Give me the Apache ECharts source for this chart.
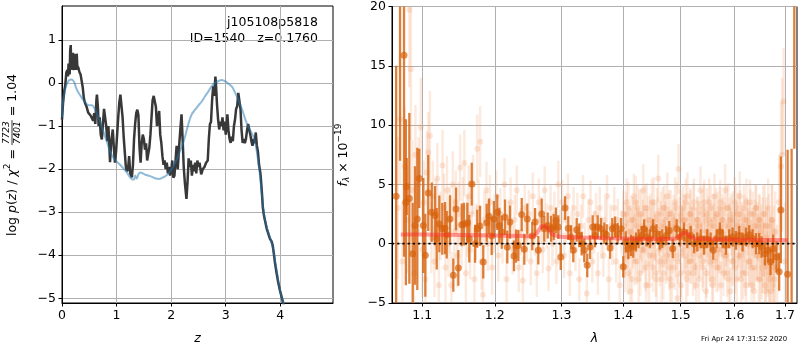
<!DOCTYPE html>
<html>
<head>
<meta charset="utf-8">
<script src="https://cdn.jsdelivr.net/npm/echarts@6/dist/echarts.min.js"></script>
<style>
  html, body { margin: 0; padding: 0; background: #fff; }
  #chart { width: 800px; height: 350px; }
</style>
</head>
<body>
<div id="chart"></div>
<script>
// ---------- redshift probability panel ----------
const zTicks = [0, 1, 2, 3, 4];
const logpTicks = [-5, -4, -3, -2, -1, 0, 1];
const zRange = [0, 4.965];
const logpRange = [-5.109, 1.787];

// log p(z) on the fine redshift grid: [z, log p]
const pzCurve = [
  [0.00,-0.85],[0.02,-0.45],[0.04,-0.20],[0.06,-0.05],[0.08,0.25],[0.10,0.30],[0.11,0.15],[0.12,0.45],
  [0.13,0.35],[0.14,0.20],[0.15,0.75],[0.16,0.88],[0.17,0.35],[0.18,0.55],[0.19,0.30],[0.20,0.70],
  [0.21,0.40],[0.22,0.30],[0.23,0.68],[0.24,0.35],[0.25,0.60],[0.26,0.30],[0.27,0.68],[0.28,0.40],
  [0.30,0.35],[0.32,0.25],[0.34,0.20],[0.36,0.24],[0.38,-0.10],[0.40,-0.35],[0.42,-0.46],[0.45,-0.55],
  [0.48,-0.69],[0.52,-0.75],[0.55,-0.82],[0.57,-0.88],[0.59,-0.70],[0.61,-0.95],[0.63,-0.40],[0.64,-0.27],
  [0.66,-0.60],[0.67,-1.00],[0.69,-0.80],[0.71,-1.20],[0.73,-1.31],[0.75,-0.95],[0.77,-0.60],[0.79,-0.57],
  [0.81,-1.00],[0.83,-1.35],[0.85,-1.00],[0.87,-1.55],[0.88,-1.84],[0.90,-1.40],[0.93,-1.08],[0.95,-1.50],
  [0.97,-1.85],[0.99,-1.60],[1.01,-1.20],[1.03,-0.80],[1.05,-0.45],[1.07,-0.27],[1.09,-0.30],[1.11,-0.80],
  [1.13,-1.25],[1.15,-1.60],[1.17,-1.95],[1.19,-2.05],[1.21,-2.00],[1.23,-1.70],[1.25,-2.10],[1.28,-2.19],
  [1.30,-1.90],[1.32,-1.30],[1.34,-0.95],[1.36,-0.70],[1.38,-0.62],[1.40,-0.75],[1.42,-1.50],[1.44,-1.85],
  [1.46,-1.40],[1.48,-1.20],[1.50,-1.30],[1.52,-1.55],[1.54,-1.40],[1.56,-1.80],[1.58,-1.65],[1.60,-1.50],
  [1.62,-1.20],[1.64,-0.80],[1.66,-0.40],[1.68,-0.30],[1.70,-0.27],[1.72,-0.55],[1.74,-1.00],[1.76,-0.85],
  [1.78,-0.65],[1.80,-1.20],[1.82,-1.40],[1.84,-1.70],[1.86,-1.90],[1.88,-1.80],[1.90,-2.00],[1.92,-1.85],
  [1.94,-2.10],[1.96,-1.95],[1.98,-2.15],[2.00,-2.05],[2.02,-1.80],[2.04,-2.20],[2.06,-2.15],[2.08,-1.80],
  [2.10,-1.46],[2.12,-2.00],[2.14,-1.60],[2.15,-1.39],[2.17,-1.05],[2.19,-0.73],[2.21,-1.30],[2.23,-1.95],
  [2.25,-2.30],[2.28,-2.69],[2.30,-2.30],[2.32,-1.75],[2.34,-1.95],[2.36,-1.80],[2.38,-2.15],[2.40,-1.90],
  [2.42,-2.05],[2.44,-1.85],[2.46,-2.10],[2.48,-1.80],[2.50,-1.95],[2.52,-1.85],[2.55,-2.12],[2.58,-2.00],
  [2.61,-1.95],[2.64,-1.85],[2.67,-1.80],[2.69,-1.30],[2.71,-0.96],[2.73,-0.90],[2.75,-0.40],[2.77,-0.08],
  [2.79,-0.30],[2.81,0.15],[2.82,0.00],[2.84,-0.50],[2.86,-0.85],[2.88,-1.08],[2.90,-0.90],[2.92,-1.00],
  [2.94,-0.80],[2.96,-1.10],[2.98,-0.90],[3.00,-1.20],[3.02,-0.90],[3.03,-0.73],[3.05,-1.10],[3.07,-1.30],
  [3.09,-1.39],[3.11,-1.25],[3.13,-1.35],[3.15,-1.00],[3.17,-0.85],[3.19,-0.60],[3.21,-0.54],[3.23,-0.23],
  [3.25,-0.25],[3.27,-0.60],[3.29,-1.10],[3.31,-1.39],[3.33,-1.30],[3.35,-1.40],[3.37,-1.30],[3.39,-1.10],
  [3.41,-0.95],[3.43,-0.92],[3.45,-1.20],[3.47,-1.35],[3.49,-1.46],[3.51,-1.30],[3.53,-1.40],[3.55,-1.15],
  [3.57,-1.45],[3.59,-1.60],[3.61,-1.90],[3.63,-2.05],[3.64,-2.16],[3.66,-2.50],[3.68,-2.90],[3.70,-3.08],
  [3.72,-3.20],[3.75,-3.38],[3.78,-3.50],[3.81,-3.62],[3.84,-3.68],[3.86,-3.77],[3.88,-3.95],[3.90,-4.16],
  [3.93,-4.40],[3.96,-4.62],[3.99,-4.80],[4.02,-4.95],[4.05,-5.10],[4.07,-5.20]
];

// template-fit log p(z): [z, log p]
const pzTemplate = [
  [0.00,-0.80],[0.02,-0.45],[0.05,-0.20],[0.08,-0.05],[0.11,0.03],[0.14,0.07],[0.17,0.08],[0.20,0.06],
  [0.23,0.00],[0.26,-0.12],[0.30,-0.22],[0.34,-0.30],[0.38,-0.38],[0.42,-0.44],[0.46,-0.50],[0.50,-0.52],
  [0.55,-0.52],[0.60,-0.60],[0.65,-0.74],[0.70,-0.90],[0.75,-1.10],[0.80,-1.28],[0.85,-1.48],[0.90,-1.65],
  [0.95,-1.75],[1.00,-1.82],[1.05,-1.88],[1.10,-1.95],[1.15,-2.02],[1.20,-2.10],[1.25,-2.20],[1.29,-2.24],
  [1.32,-2.24],[1.34,-2.15],[1.37,-2.22],[1.40,-2.12],[1.43,-2.08],[1.48,-2.10],[1.53,-2.13],[1.58,-2.15],
  [1.65,-2.18],[1.72,-2.22],[1.78,-2.23],[1.84,-2.20],[1.90,-2.16],[1.96,-2.08],[2.01,-2.00],[2.06,-1.88],
  [2.10,-1.78],[2.14,-1.65],[2.18,-1.52],[2.22,-1.40],[2.26,-1.22],[2.30,-1.02],[2.34,-0.85],[2.38,-0.72],
  [2.44,-0.62],[2.50,-0.52],[2.56,-0.43],[2.62,-0.31],[2.68,-0.20],[2.74,-0.08],[2.80,0.00],[2.86,0.04],
  [2.92,0.07],[2.96,0.06],[3.00,0.03],[3.05,-0.02],[3.11,-0.08],[3.17,-0.22],[3.23,-0.39],[3.30,-0.62],
  [3.38,-0.92],[3.44,-1.08],[3.50,-1.23],[3.55,-1.45],[3.58,-1.69],[3.61,-1.95],[3.64,-2.30],[3.67,-2.70],
  [3.70,-3.05],[3.74,-3.30],[3.78,-3.48],[3.82,-3.62],[3.86,-3.80],[3.90,-4.10],[3.95,-4.50],[4.00,-4.85],
  [4.05,-5.10],[4.07,-5.20]
];

// ---------- 1D spectrum panel ----------
const lamTicks = [1.1, 1.2, 1.3, 1.4, 1.5, 1.6, 1.7];
const lamRange = [1.0607, 1.7246];
const fluxRange = [-5, 20];
const fluxInterval = 5;

// individual spectra, first exposure: [lambda, flux, error]
const rawPoints = [
  [1.068,3.0,6.0],[1.071,10.5,5.5],[1.074,-1.5,5.0],[1.077,6.5,5.0],[1.080,2.0,4.5],[1.083,19.7,6.5],
  [1.085,14.7,6.0],[1.087,4.5,4.2],[1.089,-2.5,4.0],[1.091,7.5,4.2],[1.093,1.0,4.0],[1.095,5.0,4.0],
  [1.098,9.8,4.2],[1.100,-0.5,4.0],
  [1.102,3.5,3.5],[1.104,-3.0,3.4],[1.106,6.0,3.5],[1.108,7.7,3.4],[1.110,9.1,3.8],[1.112,0.5,3.0],
  [1.114,4.0,3.0],[1.116,-1.5,3.0],[1.118,2.5,3.0],[1.120,5.5,3.0],[1.122,-3.5,3.0],[1.124,1.5,2.9],
  [1.127,6.6,3.0],[1.129,3.0,2.9],[1.131,-2.0,2.9],[1.133,4.5,2.9],[1.135,0.0,2.8],[1.137,2.0,2.8],
  [1.139,-3.5,2.8],[1.141,5.0,2.8],[1.143,1.0,2.8],[1.145,3.5,2.7],[1.147,-1.0,2.7],[1.149,2.5,2.7],
  [1.151,6.4,2.8],[1.153,0.5,2.6],[1.155,3.0,2.6],[1.157,6.8,2.8],[1.159,-2.5,2.6],[1.161,1.5,2.6],
  [1.163,4.0,2.6],[1.165,-0.5,2.5],[1.167,2.5,2.5],[1.169,5.0,2.5],[1.171,-3.0,2.5],[1.173,1.0,2.4],
  [1.175,8.0,2.9],[1.177,3.0,2.4],[1.179,8.6,3.0],[1.181,-1.5,2.4],[1.183,-4.3,2.4],[1.185,2.0,2.4],
  [1.188,4.5,2.4],[1.190,0.0,2.3],[1.193,3.5,2.3],[1.196,-2.0,2.3],[1.199,1.5,2.3],
  [1.202,4.0,2.2],[1.205,-1.0,2.2],[1.208,2.5,2.2],[1.211,0.5,2.2],[1.214,5.0,2.2],[1.217,-3.0,2.2],
  [1.220,1.5,2.1],[1.223,3.5,2.1],[1.226,-0.5,2.1],[1.229,2.0,2.1],[1.232,4.5,2.1],[1.235,-2.0,2.1],
  [1.238,1.0,2.0],[1.241,-3.1,2.0],[1.244,3.0,2.0],[1.247,0.5,2.0],[1.250,2.5,2.0],[1.253,-1.5,2.0],
  [1.256,4.0,2.0],[1.259,1.0,2.0],[1.262,-2.5,2.0],[1.265,3.5,2.0],[1.268,2.0,2.0],[1.271,-0.5,2.0],
  [1.274,4.5,2.0],[1.277,1.5,1.9],[1.280,-2.1,1.9],[1.283,3.0,1.9],[1.286,0.0,1.9],[1.289,2.5,1.9],
  [1.292,-1.5,1.9],[1.295,5.0,2.0],[1.298,1.0,1.9],
  [1.301,3.5,1.9],[1.304,-1.0,1.9],[1.307,2.0,1.9],[1.310,4.0,1.9],[1.313,-2.5,1.9],[1.316,1.0,1.8],
  [1.319,3.0,1.8],[1.322,-0.5,1.8],[1.325,2.5,1.8],[1.328,-3.0,1.8],[1.331,1.5,1.8],[1.334,4.0,1.8],
  [1.337,0.0,1.8],[1.340,-4.2,1.8],[1.343,2.0,1.8],[1.346,3.5,1.8],[1.349,-1.5,1.8],[1.352,1.0,1.8],
  [1.355,2.5,1.8],[1.358,-2.5,1.8],[1.361,3.0,1.8],[1.364,0.5,1.8],[1.367,-1.0,1.8],[1.370,2.0,1.8],
  [1.373,4.0,1.8],[1.376,-3.0,1.8],[1.379,1.5,1.8],[1.382,0.0,1.8],[1.385,3.0,1.8],[1.388,-1.5,1.8],
  [1.391,2.0,1.8],[1.394,-3.5,1.8],[1.397,1.0,1.8],
  [1.400,2.5,2.0],[1.402,-1.0,1.9],[1.404,0.5,2.1],[1.406,3.5,2.0],[1.408,-2.5,1.8],[1.410,1.0,2.2],
  [1.412,-4.0,1.9],[1.414,2.0,2.0],[1.416,0.0,2.1],[1.418,4.0,1.9],[1.420,-1.5,2.0],[1.422,1.5,2.2],
  [1.424,3.0,1.9],[1.426,-3.0,2.0],[1.428,0.5,1.8],[1.430,2.5,2.1],[1.432,-0.5,2.0],[1.434,4.5,2.2],
  [1.436,1.0,1.9],[1.438,-2.0,2.0],[1.440,3.0,2.1],[1.442,0.0,1.9],[1.444,-3.5,2.0],[1.446,2.0,2.2],
  [1.448,1.5,1.8],[1.450,-1.0,2.0],[1.452,3.5,2.1],[1.454,0.5,1.9],[1.456,-2.5,2.0],[1.458,2.5,2.2],
  [1.460,5.5,2.0],[1.462,-0.5,1.9],[1.464,1.5,2.1],[1.466,-3.0,2.0],[1.468,3.0,1.8],[1.470,0.0,2.0],
  [1.472,2.0,2.2],[1.474,-1.5,1.9],[1.476,4.0,2.0],[1.478,1.0,2.1],[1.480,-2.0,1.9],[1.482,2.5,2.0],
  [1.484,-3.5,2.2],[1.486,1.5,1.9],[1.488,0.5,2.0],[1.490,3.5,2.1],[1.492,-1.0,1.8],[1.494,-4.6,2.0],
  [1.496,6.3,2.1],[1.498,2.0,1.9],[1.500,-2.5,2.0],[1.502,1.0,2.2],[1.504,3.0,1.9],[1.506,-0.5,2.0],
  [1.508,2.0,2.1],[1.510,-3.0,1.9],[1.512,4.0,2.0],[1.514,0.5,2.2],[1.516,-1.5,1.8],[1.518,2.5,2.0],
  [1.520,1.0,2.1],[1.522,-2.5,1.9],[1.524,3.5,2.0],[1.526,0.0,2.2],[1.528,-3.5,1.9],[1.530,2.0,2.0],
  [1.532,1.5,2.1],[1.534,-1.0,1.9],[1.536,4.5,2.0],[1.538,0.5,1.8],[1.540,-2.0,2.0],[1.542,3.0,2.1],
  [1.544,1.0,1.9],[1.546,-4.0,2.0],[1.548,2.5,2.2],[1.550,0.0,1.9],[1.552,3.5,2.0],[1.554,-1.5,2.1],
  [1.556,1.5,1.9],[1.558,-3.0,2.0],[1.560,2.0,2.2],[1.562,4.0,1.9],[1.564,0.5,2.0],[1.566,-2.0,2.1],
  [1.568,2.5,1.9],[1.570,-0.5,2.0],[1.572,3.0,1.8],[1.574,-3.5,2.0],[1.576,1.0,2.1],[1.578,2.0,1.9],
  [1.580,-1.0,2.0],[1.582,4.5,2.2],[1.584,0.0,1.9],[1.586,-2.5,2.0],[1.588,3.0,2.1],[1.590,1.5,1.9],
  [1.592,-4.0,2.0],[1.594,2.0,2.2],[1.596,0.5,1.9],[1.598,-1.5,2.0],[1.600,3.5,2.1],[1.602,1.0,1.9],
  [1.604,-3.0,2.0],[1.606,2.5,1.8],[1.608,0.0,2.0],[1.610,4.0,2.1],[1.612,-1.0,1.9],[1.614,1.5,2.0],
  [1.616,-2.5,2.2],[1.618,3.0,1.9],[1.620,0.5,2.0],[1.622,-3.5,2.1],[1.624,2.0,1.9],[1.626,1.0,2.0],
  [1.628,-1.5,2.2],[1.630,3.5,1.9],[1.632,0.0,2.0],[1.634,-2.0,2.1],[1.636,2.5,1.9],[1.638,-4.0,2.0],
  [1.640,1.5,2.2],[1.642,3.0,1.9],[1.644,-1.0,2.1],[1.646,0.5,2.0],[1.648,2.0,2.2],[1.650,-3.0,2.1],
  [1.652,1.0,2.3],[1.654,-2.0,2.2],[1.656,2.5,2.4],[1.658,-0.5,2.3],[1.660,-3.5,2.5],[1.662,1.5,2.4],
  [1.664,-1.5,2.6],[1.666,3.0,2.5],[1.668,-2.5,2.7],[1.670,0.0,2.8],[1.672,-4.0,2.8],[1.674,2.0,3.0],
  [1.676,-1.0,3.0],[1.678,-3.0,3.2],[1.680,1.0,3.4],[1.684,-2.0,3.6],[1.688,3.5,4.0],[1.692,6.5,5.5],
  [1.694,7.5,6.5],[1.697,12.0,4.5],[1.700,-1.5,5.0]
];

// individual spectra, second exposure (red half of the band): [lambda, flux, error]
const rawPoints2 = [
  [1.401,1.5,2.0],[1.403,-2.0,2.1],[1.405,2.5,1.9],[1.407,0.0,2.0],[1.409,3.0,2.2],[1.411,-1.0,1.9],
  [1.413,1.0,2.0],[1.415,-3.0,2.1],[1.417,2.0,1.9],[1.419,0.5,2.0],[1.421,3.5,2.2],[1.423,-1.5,1.9],
  [1.425,1.0,2.0],[1.427,2.5,2.1],[1.429,-2.5,1.9],[1.431,0.5,2.0],[1.433,1.5,2.2],[1.435,-0.5,1.9],
  [1.437,3.0,2.0],[1.439,-3.5,2.1],[1.441,1.0,1.9],[1.443,2.0,2.0],[1.445,-1.0,2.2],[1.447,0.0,1.9],
  [1.449,3.5,2.0],[1.451,-2.0,2.1],[1.453,1.5,1.9],[1.455,0.5,2.0],[1.457,-3.0,2.2],[1.459,2.0,1.9],
  [1.461,1.0,2.0],[1.463,-1.5,2.1],[1.465,2.5,1.9],[1.467,0.0,2.0],[1.469,-2.5,2.2],[1.471,3.0,1.9],
  [1.473,1.5,2.0],[1.475,-1.0,2.1],[1.477,0.5,1.9],[1.479,2.5,2.0],[1.481,-3.0,2.2],[1.483,1.0,1.9],
  [1.485,-0.5,2.0],[1.487,2.0,2.1],[1.489,-2.0,1.9],[1.491,1.5,2.0],[1.493,3.0,2.2],[1.495,-1.5,1.9],
  [1.497,0.5,2.0],[1.499,2.5,2.1],[1.501,-3.5,1.9],[1.503,1.0,2.0],[1.505,2.0,2.2],[1.507,-1.0,1.9],
  [1.509,3.5,2.0],[1.511,0.0,2.1],[1.513,-2.5,1.9],[1.515,1.5,2.0],[1.517,2.5,2.2],[1.519,-1.5,1.9],
  [1.521,0.5,2.0],[1.523,3.0,2.1],[1.525,-2.0,1.9],[1.527,1.0,2.0],[1.529,-0.5,2.2],[1.531,2.0,1.9],
  [1.533,-3.0,2.0],[1.535,1.5,2.1],[1.537,0.0,1.9],[1.539,2.5,2.0],[1.541,-1.5,2.2],[1.543,3.5,1.9],
  [1.545,0.5,2.0],[1.547,-2.5,2.1],[1.549,1.0,1.9],[1.551,2.0,2.0],[1.553,-1.0,2.2],[1.555,3.0,1.9],
  [1.557,0.0,2.0],[1.559,-3.5,2.1],[1.561,1.5,1.9],[1.563,-1.5,2.0],[1.565,2.5,2.2],[1.567,0.5,1.9],
  [1.569,-2.0,2.0],[1.571,1.0,2.1],[1.573,3.5,1.9],[1.575,-0.5,2.0],[1.577,2.0,2.2],[1.579,-2.5,1.9],
  [1.581,1.5,2.0],[1.583,-1.0,2.1],[1.585,3.0,1.9],[1.587,0.5,2.0],[1.589,-3.0,2.2],[1.591,2.0,1.9],
  [1.593,1.0,2.0],[1.595,-1.5,2.1],[1.597,2.5,1.9],[1.599,0.0,2.0],[1.601,-2.0,2.2],[1.603,3.0,1.9],
  [1.605,1.5,2.0],[1.607,-1.0,2.1],[1.609,0.5,1.9],[1.611,2.5,2.0],[1.613,-3.0,2.2],[1.615,1.0,1.9],
  [1.617,-0.5,2.0],[1.619,2.0,2.1],[1.621,-2.5,1.9],[1.623,3.5,2.0],[1.625,0.0,2.2],[1.627,1.5,1.9],
  [1.629,-1.5,2.0],[1.631,2.5,2.1],[1.633,-3.5,1.9],[1.635,1.0,2.0],[1.637,0.5,2.2],[1.639,-2.0,1.9],
  [1.641,3.0,2.0],[1.643,-1.0,2.1],[1.645,1.5,2.0],[1.647,-3.0,2.2],[1.649,2.0,2.1],[1.651,0.0,2.3],
  [1.653,-2.5,2.2],[1.655,1.5,2.4],[1.657,-1.5,2.3],[1.659,2.5,2.5],[1.661,-4.0,2.4],[1.663,0.5,2.6],
  [1.665,-2.0,2.5],[1.667,1.5,2.7],[1.669,-3.0,2.8],[1.671,-0.5,2.8],[1.673,2.0,3.0],[1.675,-3.5,3.0],
  [1.677,0.0,3.2],[1.679,-2.0,3.3]
];

// binned spectrum: [lambda, flux, error]
const binnedPoints = [
  [1.0660,4.0,11.0],[1.0710,22.0,15.0],[1.0761,15.9,17.0],[1.0785,3.5,7.0],[1.0796,4.83,2.4],
  [1.0830,3.82,7.2],[1.0874,-0.84,4.3],[1.0904,1.53,5.0],[1.0934,2.09,6.0],[1.0960,5.5,2.5],
  [1.1013,1.53,4.0],[1.1040,-0.98,3.5],[1.1079,4.27,3.2],[1.1125,2.65,2.5],[1.1169,2.37,2.5],
  [1.1192,0.42,2.6],[1.1227,1.67,2.4],[1.1267,1.26,2.2],[1.1304,1.31,2.2],[1.1327,0.75,2.0],
  [1.1372,2.09,2.0],[1.1417,-2.65,1.4],[1.1454,2.93,1.8],[1.1486,-2.04,1.5],[1.1533,1.59,1.8],
  [1.1564,1.65,1.8],[1.1611,1.76,1.7],[1.1638,0.42,2.0],[1.1672,5.03,1.8],[1.1719,0.0,1.6],
  [1.1750,1.26,1.6],[1.1789,1.5,1.7],[1.1835,-1.54,1.4],[1.1884,1.76,1.6],[1.1917,2.32,1.5],
  [1.1955,0.64,1.6],[1.1987,2.09,1.5],[1.2036,2.65,1.5],[1.2065,1.54,1.5],[1.2100,0.98,1.4],
  [1.2148,2.23,1.5],[1.2181,-0.28,1.4],[1.2221,1.82,1.4],[1.2279,-1.03,1.3],[1.2310,-0.2,1.4],
  [1.2343,-0.15,1.3],[1.2394,2.46,1.4],[1.2432,-0.47,1.3],[1.2477,2.09,1.3],[1.2552,0.64,1.2],
  [1.2594,1.82,1.2],[1.2643,-0.56,1.2],[1.2695,2.51,1.3],[1.2734,1.26,1.1],[1.2787,1.54,1.1],
  [1.2838,1.26,1.1],[1.2879,1.40,1.1],[1.2915,1.95,1.1],[1.2950,1.40,1.0],[1.2988,-1.12,1.1],
  [1.3055,3.0,1.0],[1.3106,1.31,1.0],[1.3150,0.56,1.0],[1.3185,-0.56,1.0],[1.3239,1.17,1.0],
  [1.3280,0.70,1.0],[1.3319,0.0,1.0],[1.3360,-0.56,1.0],[1.3408,-1.82,1.0],[1.3453,-0.28,1.0],
  [1.3496,1.40,1.0],[1.3534,0.70,1.0],[1.3577,1.40,1.0],[1.3632,1.26,0.9],[1.3685,0.89,0.9],
  [1.3725,0.75,0.9],[1.3780,-0.36,0.9],[1.3817,1.26,0.9],[1.3863,1.40,0.9],[1.3907,0.84,0.9],
  [1.3963,1.26,0.9],[1.4000,-1.95,0.9],[1.4041,0.14,0.9],[1.4085,-0.42,0.9],[1.4131,-0.14,0.9],
  [1.4169,-0.28,0.9],[1.4215,0.14,0.8],[1.4260,0.42,0.8],[1.4312,0.70,0.8],[1.4356,1.26,0.8],
  [1.4398,0.56,0.8],[1.4454,0.42,0.8],[1.4510,1.26,0.8],[1.4570,0.84,0.8],[1.4627,0.28,0.8],
  [1.4671,0.42,0.8],[1.4740,0.70,0.8],[1.4795,1.12,0.8],[1.4856,-0.42,0.8],[1.4927,1.26,0.8],
  [1.4987,0.56,0.8],[1.5059,0.98,0.8],[1.5118,0.42,0.8],[1.5180,0.70,0.8],[1.5241,0.0,0.8],
  [1.5301,0.14,0.8],[1.5363,0.42,0.8],[1.5425,-0.14,0.8],[1.5485,0.42,0.8],[1.5548,0.14,0.8],
  [1.5597,-0.56,0.8],[1.5660,0.42,0.8],[1.5723,0.98,0.8],[1.5773,0.42,0.8],[1.5836,-0.14,0.8],
  [1.5899,0.42,0.8],[1.5963,0.56,0.8],[1.6027,0.28,0.8],[1.6091,0.70,0.8],[1.6156,0.14,0.8],
  [1.6221,0.56,0.8],[1.6286,0.75,0.8],[1.6351,0.42,0.8],[1.6416,0.0,0.9],[1.6482,0.0,0.9],
  [1.6528,-0.28,0.9],[1.6594,-0.84,1.0],[1.6654,-0.56,1.0],[1.6707,-1.54,1.1],[1.6760,-0.42,1.2],
  [1.6827,-1.12,1.3],[1.6881,-2.37,1.6],[1.6915,2.85,4.5],[1.7053,-2.57,10.5],[1.7135,-6.0,14.0],
  [1.7190,30.0,22.0]
];

// best-fit model spectrum
const modelLam = [1.072,1.100,1.150,1.200,1.240,1.255,1.260,1.264,1.268,1.272,1.276,1.280,1.285,1.290,
  1.300,1.330,1.370,1.420,1.470,1.490,1.497,1.502,1.507,1.512,1.517,1.525,1.550,1.600,1.650,1.706];
const modelFlux = [0.78,0.77,0.74,0.70,0.64,0.62,0.72,1.05,1.40,1.52,1.42,1.15,0.85,0.68,
  0.58,0.52,0.47,0.42,0.40,0.42,0.55,0.82,0.92,0.80,0.58,0.45,0.38,0.34,0.32,0.30];

// ---------- layout helpers ----------
const FONT = '"DejaVu Sans", sans-serif';
const FS = 12.5, SS = 9;
const fNorm = FS + 'px ' + FONT, fItal = 'italic ' + FS + 'px ' + FONT;
const fSmall = SS + 'px ' + FONT, fSmallItal = 'italic ' + SS + 'px ' + FONT;
const mctx = document.createElement('canvas').getContext('2d');
function textWidth(str, font) { mctx.font = font; return mctx.measureText(str).width; }
const minus = v => (v < 0 ? '\u2212' + Math.abs(v) : String(v));

// builds a rotated (bottom-to-top) label from inline pieces, centred at (cx, cy)
function verticalLabel(pieces, cx, cy) {
  let x = 0;
  const children = [];
  for (const p of pieces) {
    if (p.num) {
      const w = Math.max(textWidth(p.num, p.font), textWidth(p.den, p.font)) + 2;
      children.push({ type: 'text', x: x + w / 2, y: -6, style: { text: p.num, font: p.font, fill: '#000', align: 'center', verticalAlign: 'middle' } });
      children.push({ type: 'text', x: x + w / 2, y: 5.5, style: { text: p.den, font: p.font, fill: '#000', align: 'center', verticalAlign: 'middle' } });
      children.push({ type: 'line', shape: { x1: x, y1: -0.5, x2: x + w, y2: -0.5 }, style: { stroke: '#000', lineWidth: 0.8 } });
      x += w;
    } else {
      children.push({ type: 'text', x: x, y: p.dy || 0, style: { text: p.text, font: p.font, fill: '#000', align: 'left', verticalAlign: 'middle' } });
      x += textWidth(p.text, p.font);
    }
  }
  return { type: 'group', x: cx, y: cy + x / 2, rotation: Math.PI / 2, children };
}

const ln = Math.log;

// the wavelength axis is logarithmic: ticks at lamTicks, plus blank stops at both ends
const lamTickStops = [lamRange[0], ...lamTicks, lamRange[1]].map(ln);
const lamLabel = v => {
  const t = lamTicks.find(t => Math.abs(ln(t) - v) < 1e-9);
  return t === undefined ? '' : t.toFixed(1);
};

function errorBars(points, color, width, z) {
  return {
    type: 'custom', xAxisIndex: 1, yAxisIndex: 1, clip: true, silent: true, z: z,
    data: points.map(p => [ln(p[0]), p[1], p[2]]),
    encode: { x: 0, y: 1 },
    renderItem: (params, api) => {
      const x = api.value(0), y = api.value(1), e = api.value(2);
      const a = api.coord([x, y + e]);
      const b = api.coord([x, y - e]);
      return { type: 'line', shape: { x1: a[0], y1: a[1], x2: b[0], y2: b[1] }, style: { stroke: color, lineWidth: width } };
    }
  };
}

function rawMarkers(points) {
  return {
    type: 'scatter', xAxisIndex: 1, yAxisIndex: 1, z: 2, symbolSize: 6, silent: true,
    data: points.map(p => [ln(p[0]), p[1]]),
    itemStyle: { color: 'rgba(240,140,80,0.26)' }
  };
}

const axisCommon = {
  axisLine: { show: true, onZero: false, lineStyle: { color: '#000', width: 1 } },
  axisTick: { show: true, inside: false, length: 3.5, lineStyle: { color: '#000', width: 1 } },
  axisLabel: { color: '#000', fontFamily: FONT, fontSize: FS, margin: 6 },
  splitLine: { show: true, lineStyle: { color: '#b0b0b0', width: 1 } }
};

const chart = echarts.init(document.getElementById('chart'), null, { renderer: 'canvas' });

const option = {
  animation: false,
  backgroundColor: '#fff',
  grid: [
    { left: 62, width: 271, top: 6, bottom: 46, show: true, borderColor: '#000', borderWidth: 1, backgroundColor: 'transparent' },
    { left: 392, right: 3, top: 6.5, bottom: 46, show: true, borderColor: '#000', borderWidth: 1, backgroundColor: 'transparent' }
  ],
  xAxis: [
    {
      type: 'value', gridIndex: 0, min: zRange[0], max: zRange[1],
      ...axisCommon,
      axisTick: { ...axisCommon.axisTick, customValues: zTicks },
      axisLabel: { ...axisCommon.axisLabel, customValues: zTicks, formatter: v => minus(v) },
      name: 'z', nameLocation: 'middle', nameGap: 29,
      nameTextStyle: { fontFamily: FONT, fontSize: FS, fontStyle: 'italic', color: '#000' }
    },
    {
      type: 'value', gridIndex: 1, min: ln(lamRange[0]), max: ln(lamRange[1]),
      ...axisCommon,
      axisTick: { ...axisCommon.axisTick, customValues: lamTicks.map(ln) },
      axisLabel: { ...axisCommon.axisLabel, customValues: lamTickStops, formatter: lamLabel },
      name: '\u03bb', nameLocation: 'middle', nameGap: 29,
      nameTextStyle: { fontFamily: FONT, fontSize: FS, fontStyle: 'italic', color: '#000' }
    }
  ],
  yAxis: [
    {
      type: 'value', gridIndex: 0, min: logpRange[0], max: logpRange[1],
      ...axisCommon,
      axisTick: { ...axisCommon.axisTick, customValues: logpTicks },
      axisLabel: { ...axisCommon.axisLabel, customValues: logpTicks, formatter: v => minus(v) }
    },
    {
      type: 'value', gridIndex: 1, min: fluxRange[0], max: fluxRange[1], interval: fluxInterval,
      ...axisCommon,
      axisLabel: { ...axisCommon.axisLabel, formatter: v => minus(v) }
    }
  ],
  series: [
    {
      type: 'line', xAxisIndex: 0, yAxisIndex: 0, data: pzCurve, symbol: 'none', z: 3,
      lineStyle: { color: '#383838', width: 2.5 }
    },
    {
      type: 'line', xAxisIndex: 0, yAxisIndex: 0, data: pzTemplate, symbol: 'none', smooth: 0.3, z: 4,
      lineStyle: { color: 'rgba(31,119,180,0.5)', width: 2 }
    },
    errorBars(rawPoints, 'rgba(242,150,90,0.2)', 2.5, 2),
    errorBars(rawPoints2, 'rgba(242,150,90,0.18)', 2.5, 2),
    rawMarkers(rawPoints),
    rawMarkers(rawPoints2),
    errorBars(binnedPoints, 'rgba(214,96,10,0.8)', 2.3, 3),
    {
      type: 'scatter', xAxisIndex: 1, yAxisIndex: 1, z: 3, symbolSize: 7,
      data: binnedPoints.map(p => [ln(p[0]), p[1]]),
      itemStyle: { color: 'rgba(214,96,10,0.85)' }
    },
    {
      type: 'line', xAxisIndex: 1, yAxisIndex: 1, z: 4, symbol: 'none', smooth: 0.3,
      data: modelLam.map((l, i) => [ln(l), modelFlux[i]]),
      lineStyle: { color: 'rgba(255,40,40,0.45)', width: 4 }
    },
    {
      type: 'line', xAxisIndex: 1, yAxisIndex: 1, z: 5, symbol: 'none',
      data: [[ln(lamRange[0]), 0], [ln(lamRange[1]), 0]],
      lineStyle: { color: '#000', width: 1.8, type: [2.2, 3] }
    }
  ],
  graphic: [
    { type: 'text', x: 318, y: 23, style: { text: 'j105108p5818', font: fNorm, fill: '#000', align: 'right', verticalAlign: 'middle' } },
    { type: 'text', x: 318, y: 38.5, style: { text: 'ID=1540   z=0.1760', font: fNorm, fill: '#000', align: 'right', verticalAlign: 'middle' } },
    { type: 'text', x: 701, y: 339, style: { text: 'Fri Apr 24 17:31:52 2020', font: '6.9px ' + FONT, fill: '#000', align: 'left', verticalAlign: 'middle' } },
    verticalLabel([
      { text: 'log ', font: fNorm },
      { text: 'p', font: fItal },
      { text: '(', font: fNorm },
      { text: 'z', font: fItal },
      { text: ') / ', font: fNorm },
      { text: '\u03c7', font: fItal },
      { text: '2', font: fSmall, dy: -5 },
      { text: ' = ', font: fNorm },
      { num: '7723', den: '7401', font: fSmallItal },
      { text: ' = 1.04', font: fNorm }
    ], 12.5, 155),
    verticalLabel([
      { text: 'f', font: fItal },
      { text: '\u03bb', font: fSmallItal, dy: 3.5 },
      { text: ' \u00d7 10', font: fNorm },
      { text: '\u221219', font: fSmall, dy: -5 }
    ], 343.5, 155)
  ]
};

chart.setOption(option);
</script>
</body>
</html>
